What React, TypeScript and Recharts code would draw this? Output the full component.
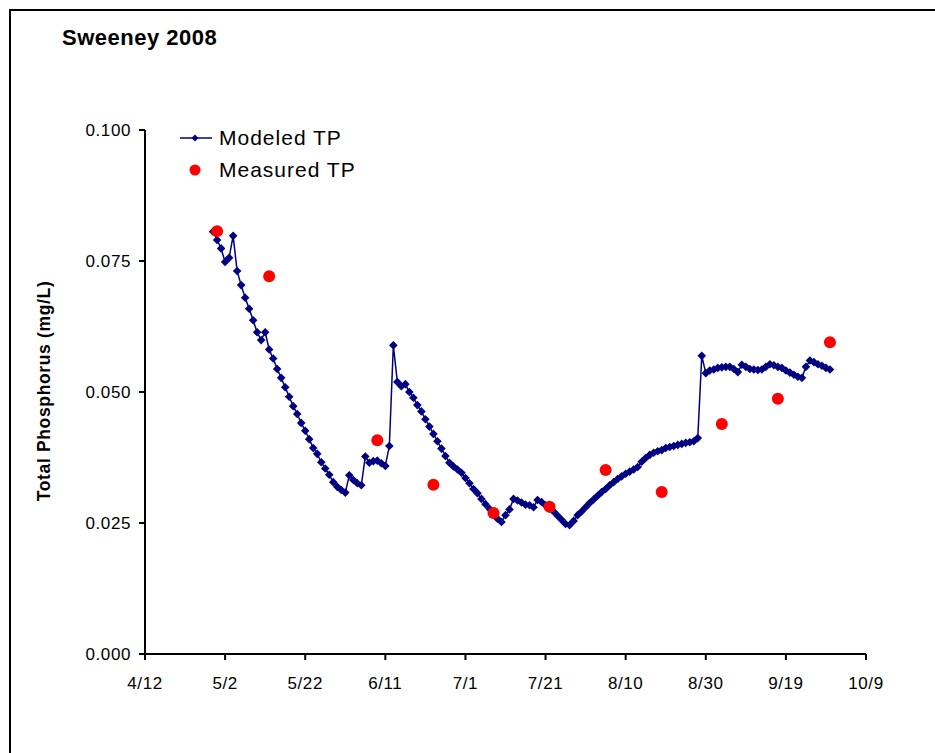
import React from 'react'
import { ComposedChart, Line, Scatter, XAxis, YAxis } from 'recharts'

const FONT = '"Liberation Sans", Arial, sans-serif'
const NAVY = '#000080'
const RED = '#FF0000'

// x ticks (every 20 days from 4/12/2008)
const X_TICK_LABELS = ['4/12', '5/2', '5/22', '6/11', '7/1', '7/21', '8/10', '8/30', '9/19', '10/9']
const Y_TICKS = [0, 0.025, 0.05, 0.075, 0.1]

// modeled TP, one value per day starting 4/29
const MODELED_START = '4/29'
const MODELED_TP = [
  0.0806, 0.0790, 0.0774, 0.0748, 0.0756, 0.0798, 0.0731, 0.0704, 0.0680, 0.0659,
  0.0637, 0.0614, 0.0599, 0.0614, 0.0581, 0.0564, 0.0544, 0.0527, 0.0509, 0.0491,
  0.0473, 0.0458, 0.0441, 0.0426, 0.0410, 0.0393, 0.0382, 0.0366, 0.0354, 0.0342,
  0.0328, 0.0319, 0.0313, 0.0308, 0.0341, 0.0332, 0.0326, 0.0322, 0.0377, 0.0365,
  0.0368, 0.0369, 0.0364, 0.0359, 0.0397, 0.0589, 0.0519, 0.0511, 0.0515, 0.0500,
  0.0489, 0.0475, 0.0463, 0.0448, 0.0434, 0.0420, 0.0406, 0.0392, 0.0378, 0.0365,
  0.0358, 0.0352, 0.0346, 0.0336, 0.0326, 0.0315, 0.0307, 0.0296, 0.0286, 0.0277,
  0.0268, 0.0258, 0.0252, 0.0265, 0.0276, 0.0296, 0.0293, 0.0289, 0.0285, 0.0284,
  0.0280, 0.0294, 0.0290, 0.0284, 0.0278, 0.0272, 0.0264, 0.0256, 0.0248, 0.0246,
  0.0254, 0.0265, 0.0272, 0.0280, 0.0288, 0.0295, 0.0302, 0.0309, 0.0315, 0.0322,
  0.0328, 0.0334, 0.0339, 0.0344, 0.0348, 0.0352, 0.0357, 0.0367, 0.0374, 0.0380,
  0.0384, 0.0387, 0.0389, 0.0393, 0.0395, 0.0397, 0.0399, 0.0401, 0.0403, 0.0404,
  0.0406, 0.0412, 0.0569, 0.0536, 0.0541, 0.0543, 0.0546, 0.0547, 0.0548, 0.0548,
  0.0544, 0.0538, 0.0552, 0.0548, 0.0544, 0.0543, 0.0542, 0.0543, 0.0548, 0.0553,
  0.0551, 0.0548, 0.0546, 0.0541, 0.0537, 0.0533, 0.0529, 0.0527, 0.0548, 0.0560,
  0.0557, 0.0553, 0.0550, 0.0546, 0.0543,
]

const MEASURED_DATES = ['4/30', '5/13', '6/9', '6/23', '7/8', '7/22', '8/5', '8/19', '9/3', '9/17', '9/30']
const MEASURED_TP = [0.0807, 0.0721, 0.0408, 0.0323, 0.0269, 0.0281, 0.0351, 0.0309, 0.0439, 0.0487, 0.0595]

// days since 4/12/2008
function dayOf(md: string): number {
  const [m, d] = md.split('/').map(Number)
  return Math.round((Date.UTC(2008, m - 1, d) - Date.UTC(2008, 3, 12)) / 86400000)
}

const xTicks = X_TICK_LABELS.map(dayOf)
const startDay = dayOf(MODELED_START)
const modeled = MODELED_TP.map((tp, i) => ({ day: startDay + i, tp }))
const measured = MEASURED_DATES.map((d, i) => ({ day: dayOf(d), tp: MEASURED_TP[i] }))

const tickStyle = { fontFamily: FONT, fontSize: 17, fill: '#000', letterSpacing: 0.6 }

function Diamond(props: any) {
  const { cx, cy, index } = props
  if (cx == null || cy == null) return null
  const r = 4.3
  return (
    <path
      key={`dm-${index}`}
      d={`M${cx},${cy - r}L${cx + r},${cy}L${cx},${cy + r}L${cx - r},${cy}Z`}
      fill={NAVY}
    />
  )
}

function RedDot(props: any) {
  const { cx, cy } = props
  return <circle cx={cx} cy={cy} r={6} fill={RED} />
}

export default function App() {
  return (
    <div style={{
      position: 'absolute', left: 0, top: 0, width: 935, height: 753,
      background: '#fff', overflow: 'hidden',
    }}>
      <div style={{
        position: 'absolute', left: 9, top: 9, width: 1100, height: 1100,
        border: '2px solid #000',
      }} />
      <ComposedChart
        width={935}
        height={753}
        margin={{ top: 130, right: 69, left: 0, bottom: 69 }}
        style={{ position: 'absolute', left: 0, top: 0 }}
      >
        <XAxis
          dataKey="day"
          type="number"
          domain={[0, 180]}
          ticks={xTicks}
          interval={0}
          tickFormatter={(v: number) => X_TICK_LABELS[xTicks.indexOf(v)] ?? ''}
          height={30}
          tickSize={6}
          tickMargin={17}
          axisLine={{ stroke: '#000', strokeWidth: 2 }}
          tickLine={{ stroke: '#000', strokeWidth: 2 }}
          tick={tickStyle}
        />
        <YAxis
          type="number"
          domain={[0, 0.1]}
          ticks={Y_TICKS}
          interval={0}
          tickFormatter={(v: number) => v.toFixed(3)}
          width={145}
          tickSize={6}
          tickMargin={8}
          axisLine={{ stroke: '#000', strokeWidth: 2 }}
          tickLine={{ stroke: '#000', strokeWidth: 2 }}
          tick={tickStyle}
        />
        <Line
          data={modeled}
          dataKey="tp"
          type="linear"
          stroke={NAVY}
          strokeWidth={1.5}
          dot={Diamond}
          activeDot={false}
          isAnimationActive={false}
        />
        <Scatter
          data={measured}
          dataKey="tp"
          shape={RedDot}
          isAnimationActive={false}
        />
      </ComposedChart>
      <svg
        width={935}
        height={753}
        style={{ position: 'absolute', left: 0, top: 0, pointerEvents: 'none' }}
      >
        <text x={62} y={45} fontFamily={FONT} fontSize={22} fontWeight="bold" letterSpacing={0.5}>
          Sweeney 2008
        </text>
        <text
          transform="translate(50,391) rotate(-90)"
          textAnchor="middle"
          fontFamily={FONT}
          fontSize={17.5}
          fontWeight="bold"
          letterSpacing={0.65}
        >
          Total Phosphorus (mg/L)
        </text>
        <line x1={180} y1={138} x2={212} y2={138} stroke={NAVY} strokeWidth={1.5} />
        <path d="M195,134.5L198.5,138L195,141.5L191.5,138Z" fill={NAVY} />
        <text x={219} y={145} fontFamily={FONT} fontSize={21} letterSpacing={1}>Modeled TP</text>
        <circle cx={195} cy={170} r={5.5} fill={RED} />
        <text x={219} y={177} fontFamily={FONT} fontSize={21} letterSpacing={1}>Measured TP</text>
      </svg>
    </div>
  )
}
